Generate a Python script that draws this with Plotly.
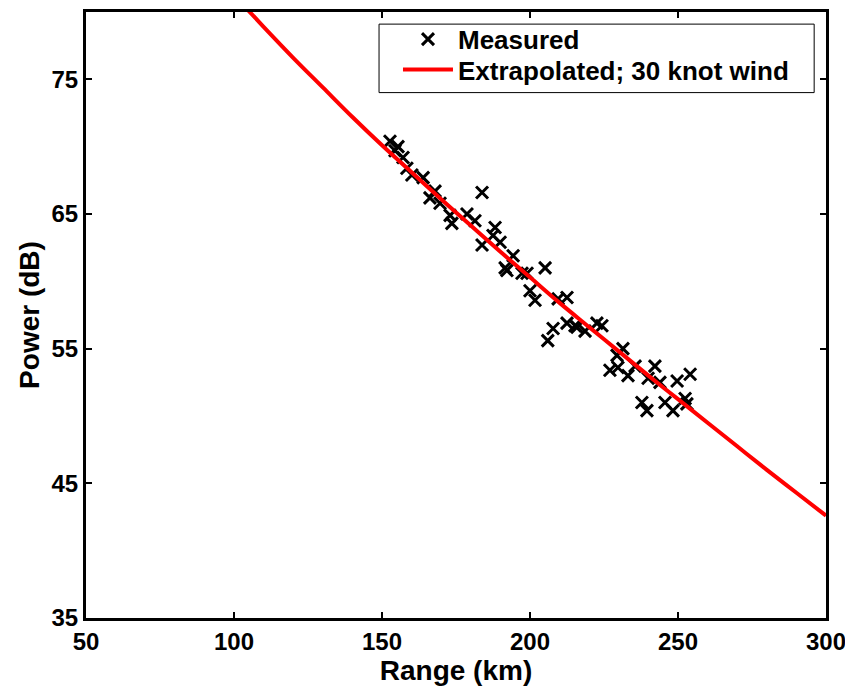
import plotly.graph_objects as go

# Measured points (Range km, Power dB)
meas_range = [152.7, 155.4, 154.4, 157.1, 158.4, 160.1, 163.9, 167.9, 166.2, 169.6,
              173.0, 173.6, 178.7, 181.4, 183.8, 183.8, 188.2, 187.5, 189.9, 194.3,
              191.6, 192.2, 197.3, 199.0, 205.1, 200.0, 201.7, 212.5, 209.5, 207.8,
              206.0, 212.5, 215.2, 215.9, 218.6, 222.6, 224.3, 231.4, 229.4, 227.0,
              229.7, 233.1, 235.5, 242.2, 239.9, 243.9, 249.7, 254.1, 237.8, 239.5,
              245.6, 248.3, 252.4, 253.0]
meas_power = [70.4, 70.0, 69.7, 69.2, 68.4, 67.9, 67.7, 66.7, 66.2, 65.8,
              64.9, 64.3, 65.0, 64.5, 66.6, 62.7, 64.0, 63.4, 62.9, 61.9,
              61.0, 60.8, 60.6, 60.6, 61.0, 59.3, 58.6, 58.8, 58.7, 56.5,
              55.6, 56.9, 56.7, 56.6, 56.3, 56.9, 56.7, 55.0, 54.5, 53.4,
              53.6, 53.0, 53.7, 53.7, 52.8, 52.5, 52.6, 53.1, 51.0, 50.4,
              51.0, 50.4, 51.3, 50.9]

# Extrapolated curve
curve_range = [100, 110, 120, 130, 140, 150, 160, 170, 180, 190, 200,
               210, 220, 230, 240, 250, 260, 270, 280, 290, 300]
curve_power = [81.25, 78.9, 76.6, 74.4, 72.2, 70.1, 68.1, 66.1, 64.15, 62.2, 60.3,
               58.4, 56.6, 54.8, 53.0, 51.25, 49.5, 47.75, 46.0, 44.3, 42.6]

x_ticks = [50, 100, 150, 200, 250, 300]
y_ticks = [35, 45, 55, 65, 75]

FONT = "Liberation Sans, Arial, sans-serif"

fig = go.Figure()
fig.add_trace(go.Scatter(
    x=meas_range, y=meas_power, mode="markers", name="Measured",
    marker=dict(symbol="x-thin", size=12, color="black",
                line=dict(color="black", width=3)),
    legend="legend",
))
fig.add_trace(go.Scatter(
    x=curve_range, y=curve_power, mode="lines",
    name="Extrapolated; 30 knot wind",
    line=dict(color="#ff0000", width=4, shape="spline"),
    legend="legend2",
))

axis_common = dict(
    showline=True, linecolor="black", linewidth=3, mirror="ticks",
    ticks="inside", ticklen=6, tickwidth=2, tickcolor="black",
    showgrid=False, zeroline=False,
    tickfont=dict(family=FONT, size=24, color="black", weight="bold"),
)

legend_common = dict(
    xanchor="left", yanchor="middle", x=0.4216,
    bgcolor="rgba(0,0,0,0)", borderwidth=0,
    font=dict(family=FONT, size=26, color="black", weight="bold"),
    itemwidth=50,
)

fig.update_layout(
    width=845, height=686,
    margin=dict(l=78, r=27, t=1, b=76),
    plot_bgcolor="white", paper_bgcolor="white",
    xaxis=dict(range=[50, 300], tickvals=x_ticks,
               title=dict(text="Range (km)", standoff=2,
                          font=dict(family=FONT, size=28, color="black", weight="bold")),
               **axis_common),
    yaxis=dict(range=[35, 80], tickvals=y_ticks,
               title=dict(text="Power (dB)", standoff=4,
                          font=dict(family=FONT, size=28, color="black", weight="bold")),
               **axis_common),
    legend=dict(y=0.955, **legend_common),
    legend2=dict(y=0.905, **legend_common),
    showlegend=True,
    shapes=[dict(type="rect", xref="paper", yref="paper",
                 x0=0.396, x1=0.984, y0=0.867, y1=0.980,
                 line=dict(color="black", width=1), fillcolor="white",
                 layer="below")],
)

fig.write_html("out.html")
